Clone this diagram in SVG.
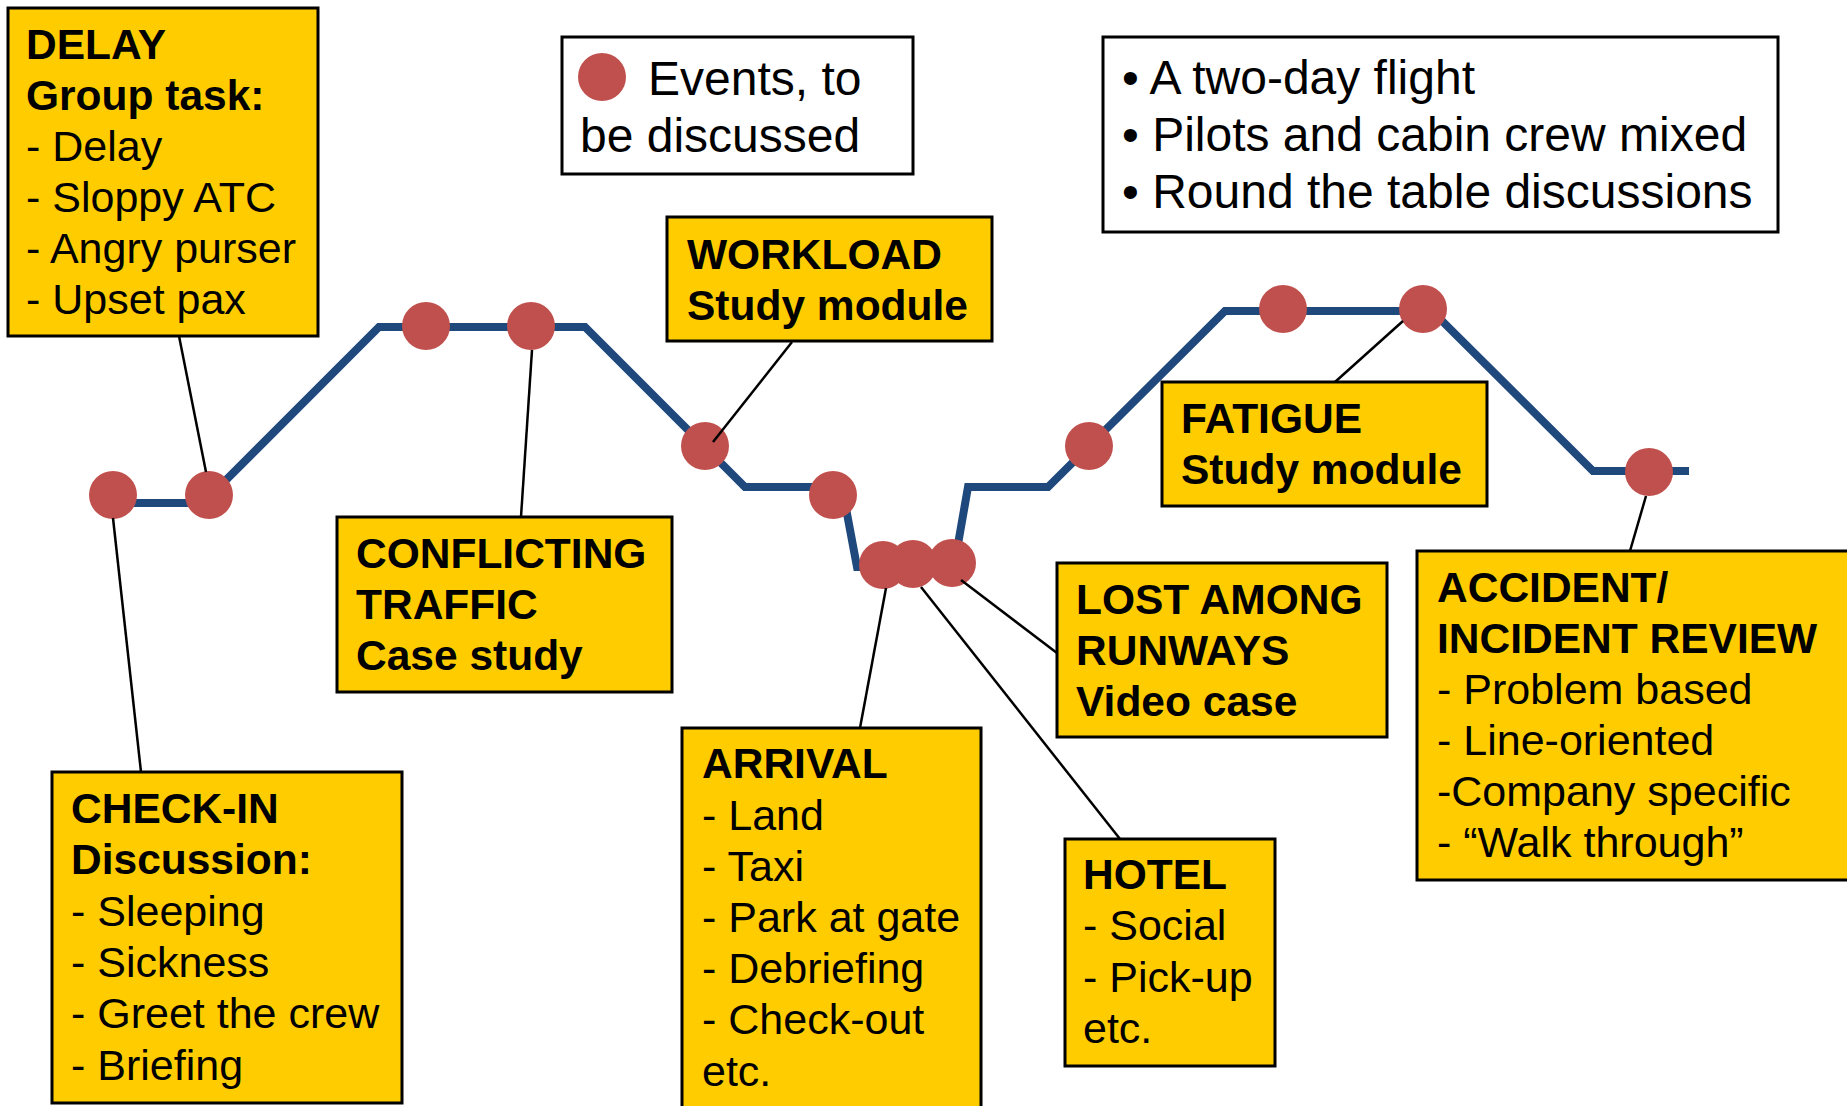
<svg xmlns="http://www.w3.org/2000/svg" width="1847" height="1106" viewBox="0 0 1847 1106">
  <style>
    .box { fill: #FFCC00; stroke: #000; stroke-width: 3; }
    .note { fill: #FFFFFF; stroke: #000; stroke-width: 3; }
    .t { font-family: "Liberation Sans", Arial, sans-serif; font-size: 43px; fill: #000; }
    .b { font-weight: bold; font-size: 42.5px; }
    .big { font-size: 48px; }
    .ev { fill: #C0504D; }
    .route { fill: none; stroke: #1F497D; stroke-width: 8; stroke-linejoin: miter; }
    .lead { stroke: #000; stroke-width: 2.5; fill: none; }
  </style>
  <defs>
    <circle id="event" r="24" class="ev"/>
  </defs>

  <rect width="1847" height="1106" fill="#FFFFFF"/>

  <!-- flight profile -->
  <g id="profile">
    <path class="route" d="M113,503 L203,503 L379,327 L585,327 L745,487 L842,487 L857,567 L954,567 L968,487 L1048,487 L1225,311 L1432,311 L1593,471 L1689,471"/>
  </g>

  <!-- events along the profile -->
  <g id="events">
    <use href="#event" x="113" y="495"/>
    <use href="#event" x="209" y="495"/>
    <use href="#event" x="426" y="326"/>
    <use href="#event" x="531" y="326"/>
    <use href="#event" x="705" y="446"/>
    <use href="#event" x="833" y="495"/>
    <use href="#event" x="883" y="565"/>
    <use href="#event" x="913" y="564"/>
    <use href="#event" x="952" y="563"/>
    <use href="#event" x="1089" y="446"/>
    <use href="#event" x="1283" y="309"/>
    <use href="#event" x="1423" y="309"/>
    <use href="#event" x="1649" y="472"/>
  </g>

  <!-- leader lines from boxes to events -->
  <g id="connectors">
    <line class="lead" x1="179" y1="336" x2="206" y2="472"/>
    <line class="lead" x1="113" y1="518" x2="141" y2="772"/>
    <line class="lead" x1="532" y1="350" x2="521" y2="517"/>
    <line class="lead" x1="792" y1="342" x2="713" y2="442"/>
    <line class="lead" x1="1403" y1="321" x2="1335" y2="382"/>
    <line class="lead" x1="1646" y1="496" x2="1630" y2="551"/>
    <line class="lead" x1="886" y1="588" x2="860" y2="728"/>
    <line class="lead" x1="921" y1="587" x2="1120" y2="839"/>
    <line class="lead" x1="961" y1="580" x2="1057" y2="653"/>
  </g>

  <g id="legend">
    <rect class="note" x="562" y="37" width="351" height="137"/>
    <circle class="ev" cx="602" cy="77" r="24"/>
    <text class="t big" x="648" y="95">Events, to</text>
    <text class="t big" x="580" y="152">be discussed</text>
  </g>

  <g id="course-info">
    <rect class="note" x="1103" y="37" width="675" height="195"/>
    <text class="t big" x="1122" y="94">• A two-day flight</text>
    <text class="t big" x="1122" y="151">• Pilots and cabin crew mixed</text>
    <text class="t big" x="1122" y="208">• Round the table discussions</text>
  </g>

  <g id="delay">
    <rect class="box" x="8" y="8" width="310" height="328"/>
    <text class="t b" x="26" y="59">DELAY</text>
    <text class="t b" x="26" y="110">Group task:</text>
    <text class="t" x="26" y="161">- Delay</text>
    <text class="t" x="26" y="212">- Sloppy ATC</text>
    <text class="t" x="26" y="263">- Angry purser</text>
    <text class="t" x="26" y="314">- Upset pax</text>
  </g>

  <g id="workload">
    <rect class="box" x="667" y="217" width="325" height="124"/>
    <text class="t b" x="687" y="269">WORKLOAD</text>
    <text class="t b" x="687" y="320">Study module</text>
  </g>

  <g id="conflicting-traffic">
    <rect class="box" x="337" y="517" width="335" height="175"/>
    <text class="t b" x="356" y="568">CONFLICTING</text>
    <text class="t b" x="356" y="619">TRAFFIC</text>
    <text class="t b" x="356" y="670">Case study</text>
  </g>

  <g id="check-in">
    <rect class="box" x="52" y="772" width="350" height="331"/>
    <text class="t b" x="71" y="823">CHECK-IN</text>
    <text class="t b" x="71" y="874">Discussion:</text>
    <text class="t" x="71" y="926">- Sleeping</text>
    <text class="t" x="71" y="977">- Sickness</text>
    <text class="t" x="71" y="1028">- Greet the crew</text>
    <text class="t" x="71" y="1080">- Briefing</text>
  </g>

  <g id="arrival">
    <rect class="box" x="682" y="728" width="299" height="400"/>
    <text class="t b" x="702" y="778">ARRIVAL</text>
    <text class="t" x="702" y="830">- Land</text>
    <text class="t" x="702" y="881">- Taxi</text>
    <text class="t" x="702" y="932">- Park at gate</text>
    <text class="t" x="702" y="983">- Debriefing</text>
    <text class="t" x="702" y="1034">- Check-out</text>
    <text class="t" x="702" y="1086">etc.</text>
  </g>

  <g id="hotel">
    <rect class="box" x="1065" y="839" width="210" height="227"/>
    <text class="t b" x="1083" y="889">HOTEL</text>
    <text class="t" x="1083" y="940">- Social</text>
    <text class="t" x="1083" y="992">- Pick-up</text>
    <text class="t" x="1083" y="1043">etc.</text>
  </g>

  <g id="lost-among-runways">
    <rect class="box" x="1057" y="563" width="330" height="174"/>
    <text class="t b" x="1076" y="614">LOST AMONG</text>
    <text class="t b" x="1076" y="665">RUNWAYS</text>
    <text class="t b" x="1076" y="716">Video case</text>
  </g>

  <g id="fatigue">
    <rect class="box" x="1162" y="382" width="325" height="124"/>
    <text class="t b" x="1181" y="433">FATIGUE</text>
    <text class="t b" x="1181" y="484">Study module</text>
  </g>

  <g id="incident-review">
    <rect class="box" x="1417" y="551" width="450" height="329"/>
    <text class="t b" x="1437" y="602">ACCIDENT/</text>
    <text class="t b" x="1437" y="653">INCIDENT REVIEW</text>
    <text class="t" x="1437" y="704">- Problem based</text>
    <text class="t" x="1437" y="755">- Line-oriented</text>
    <text class="t" x="1437" y="806">-Company specific</text>
    <text class="t" x="1437" y="857">- “Walk through”</text>
  </g>
</svg>
